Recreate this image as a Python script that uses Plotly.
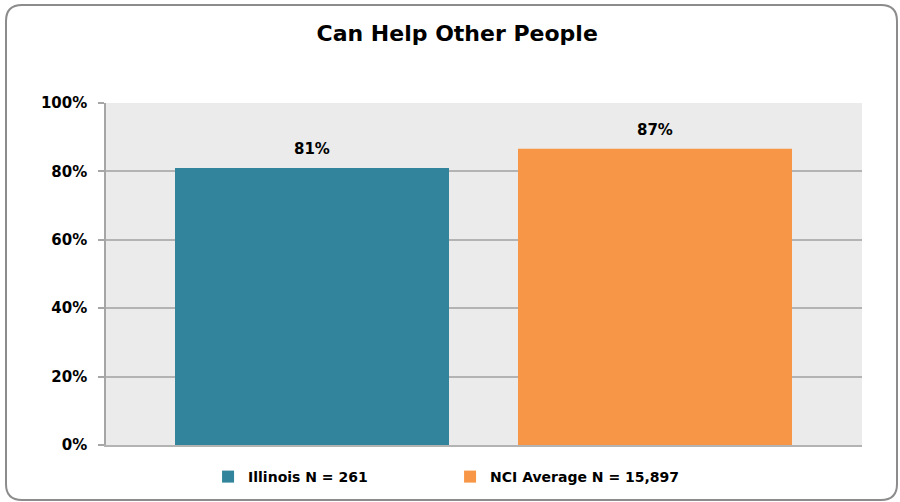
import plotly.graph_objects as go

categories = [""]
series_names = ["Illinois N = 261", "NCI Average N = 15,897"]
series_values = [0.81, 0.866]
series_colors = ["#31849B", "#F79646"]
y_ticks = [0, 0.2, 0.4, 0.6, 0.8, 1.0]

W, H = 900, 502
ml, mr, mt, mb = 106, 38, 103, 57
pw = W - ml - mr
ph = H - mt - mb

bar_w = 274 / pw
offsets = [-309 / pw, 34 / pw]

FONT = "DejaVu Sans"

fig = go.Figure()
for name, val, col, off in zip(series_names, series_values, series_colors, offsets):
    fig.add_trace(go.Bar(
        x=categories, y=[val], name=name, width=bar_w, offset=off,
        marker=dict(color=col, line=dict(width=0)),
        hoverinfo="skip",
    ))
    fig.add_annotation(
        x=off + bar_w / 2, y=val, xref="x", yref="y",
        text="<b>%d%%</b>" % round(val * 100), showarrow=False,
        yanchor="bottom", yshift=8,
        font=dict(family=FONT, size=15, color="#000000"),
    )

# rounded outer border (in paper coords)
def px2x(px):
    return (px - ml) / pw

def py2y(py):
    return (H - mb - py) / ph

x0, x1, y0, y1, r = 6, 897, 5, 500, 16
path = (
    f"M {px2x(x0 + r)} {py2y(y0)} L {px2x(x1 - r)} {py2y(y0)} "
    f"Q {px2x(x1)} {py2y(y0)} {px2x(x1)} {py2y(y0 + r)} "
    f"L {px2x(x1)} {py2y(y1 - r)} "
    f"Q {px2x(x1)} {py2y(y1)} {px2x(x1 - r)} {py2y(y1)} "
    f"L {px2x(x0 + r)} {py2y(y1)} "
    f"Q {px2x(x0)} {py2y(y1)} {px2x(x0)} {py2y(y1 - r)} "
    f"L {px2x(x0)} {py2y(y0 + r)} "
    f"Q {px2x(x0)} {py2y(y0)} {px2x(x0 + r)} {py2y(y0)} Z"
)
fig.add_shape(type="path", path=path, xref="paper", yref="paper",
              line=dict(color="#8C8C8C", width=2), layer="above")

fig.update_layout(
    width=W, height=H,
    margin=dict(l=ml, r=mr, t=mt, b=mb, autoexpand=False),
    paper_bgcolor="white",
    plot_bgcolor="#EBEBEB",
    barmode="overlay",
    title=dict(text="<b>Can Help Other People</b>", x=0.508, xanchor="center",
               y=0.934, yanchor="middle",
               font=dict(family=FONT, size=22, color="#000000")),
    showlegend=True,
    legend=dict(orientation="h", x=0.135, xanchor="left",
                yref="container", y=(H - 477) / H, yanchor="middle",
                font=dict(family=FONT, size=14, color="#000000", weight="bold"),
                entrywidth=197, itemwidth=30, traceorder="normal"),
    font=dict(family=FONT),
)
fig.update_xaxes(showticklabels=False, showgrid=False, showline=True,
                 linecolor="#B3B3B3", linewidth=2, ticks="", fixedrange=True)
fig.update_yaxes(range=[0, 1], tickvals=y_ticks, tickformat=".0%",
                 showgrid=True, gridcolor="#B3B3B3", gridwidth=1.5,
                 showline=True, linecolor="#A6A6A6", linewidth=1.5,
                 ticks="outside", ticklen=6, tickcolor="#A6A6A6", tickwidth=1.5,
                 ticklabelstandoff=8,
                 tickfont=dict(family=FONT, size=15, color="#000000", weight="bold"),
                 zeroline=False, fixedrange=True)

fig.write_html("out.html", config={"displayModeBar": False},
               post_script="document.body.style.margin='0';")
